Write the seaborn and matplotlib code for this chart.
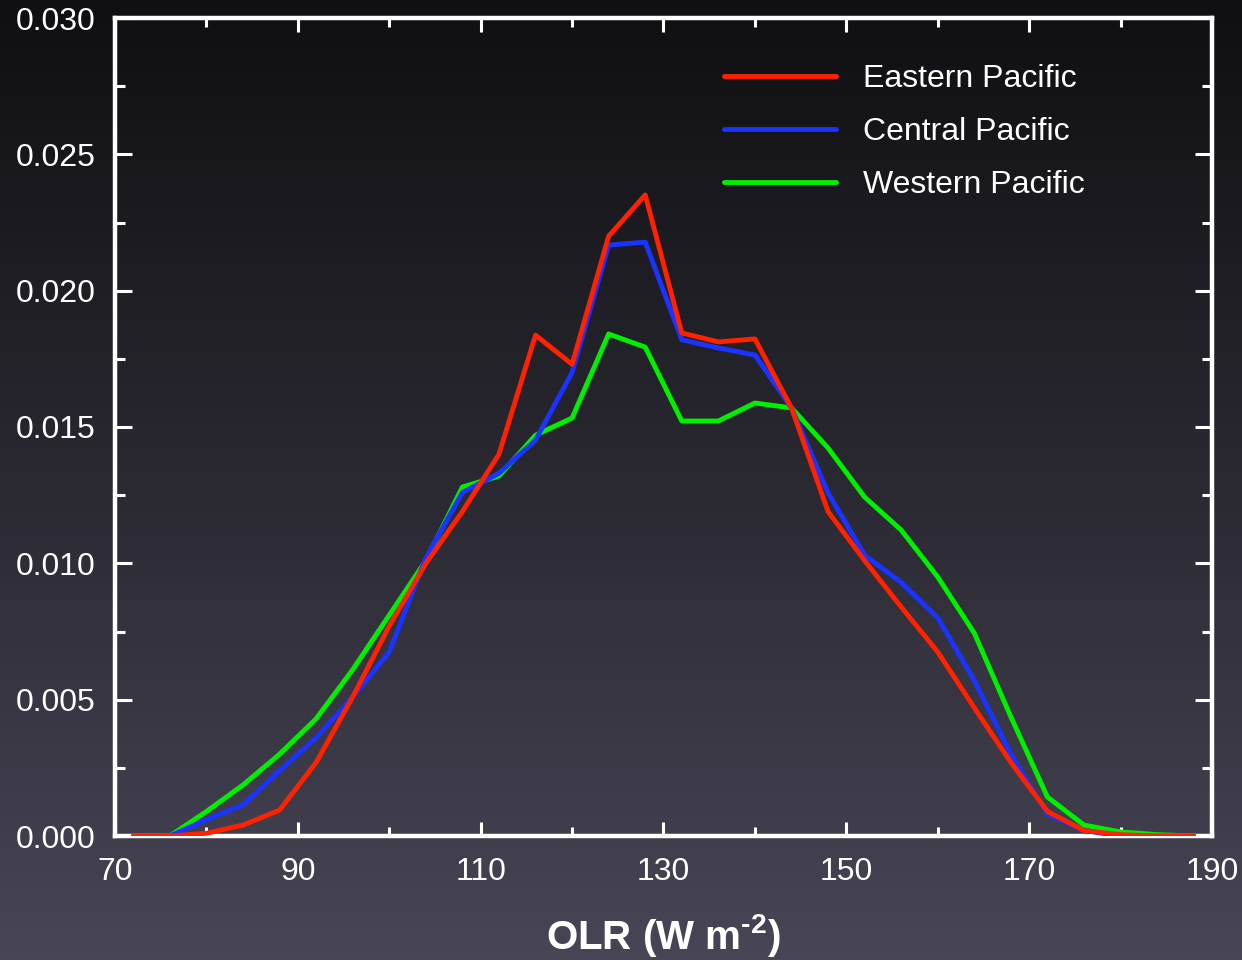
import numpy as np
import pandas as pd
import matplotlib
matplotlib.use("Agg")
import matplotlib.pyplot as plt
import seaborn as sns
from matplotlib.lines import Line2D

# ---- data ----
olr = [72, 76, 80, 84, 88, 92, 96, 100, 104, 108, 112, 116, 120, 124, 128, 132,
       136, 140, 144, 148, 152, 156, 160, 164, 168, 172, 176, 180, 184, 188]
eastern = [0.0, 0.0, 0.0001, 0.0004, 0.00095, 0.0027, 0.0051, 0.0077, 0.0100, 0.0119,
           0.0140, 0.01837, 0.0173, 0.0220, 0.02351, 0.01845, 0.01812, 0.01823,
           0.0157, 0.0119, 0.0101, 0.0084, 0.00675, 0.0047, 0.0027, 0.0009, 0.0002,
           0.00005, 0.0, 0.0]
central = [0.0, 0.0, 0.0006, 0.00114, 0.0024, 0.0036, 0.0051, 0.00675, 0.0102, 0.0126,
           0.0133, 0.01452, 0.0170, 0.02167, 0.02178, 0.0182, 0.0179, 0.01764,
           0.0157, 0.01258, 0.0103, 0.0093, 0.0080, 0.0057, 0.0030, 0.0008, 0.0002,
           0.0, 0.0, 0.0]
western = [0.0, 0.0, 0.0009, 0.00187, 0.0030, 0.0043, 0.0061, 0.0081, 0.0101, 0.0128,
           0.0132, 0.0147, 0.01533, 0.01841, 0.01793, 0.01522, 0.01522, 0.01588,
           0.0157, 0.01423, 0.01243, 0.01122, 0.0095, 0.00744, 0.00437, 0.00143,
           0.0004, 0.00015, 0.00005, 0.0]
regions = ["Eastern Pacific", "Central Pacific", "Western Pacific"]
colors = ["#ff2200", "#1a33ff", "#00f000"]
x_ticks = [70, 90, 110, 130, 150, 170, 190]
y_ticks = [0.000, 0.005, 0.010, 0.015, 0.020, 0.025, 0.030]

df = pd.DataFrame({
    "OLR": olr * 3,
    "freq": eastern + central + western,
    "region": [regions[0]] * len(olr) + [regions[1]] * len(olr) + [regions[2]] * len(olr),
})

sns.set_theme(style="ticks")
plt.rcParams["font.family"] = ["Liberation Sans", "DejaVu Sans"]
plt.rcParams["mathtext.fontset"] = "custom"
plt.rcParams["mathtext.rm"] = "Liberation Sans:bold"
plt.rcParams["mathtext.bf"] = "Liberation Sans:bold"
plt.rcParams["mathtext.it"] = "Liberation Sans:bold"

fig = plt.figure(figsize=(12.42, 9.6), dpi=100)

# background gradient
bg = fig.add_axes([0, 0, 1, 1], zorder=-10)
grad = np.linspace(0, 1, 256)[:, None]
top = np.array([16, 16, 19]) / 255.0
bot = np.array([72, 70, 86]) / 255.0
g = grad ** 1.1
img = top[None, None, :] * (1 - g[:, :, None]) + bot[None, None, :] * g[:, :, None]
bg.imshow(img, aspect="auto", extent=[0, 1, 0, 1])
bg.set_axis_off()

ax = fig.add_axes([115 / 1242, 1 - 836 / 960, (1212 - 115) / 1242, (836 - 18) / 960])
ax.set_facecolor("none")

sns.lineplot(data=df, x="OLR", y="freq", hue="region", hue_order=regions,
             palette=colors, linewidth=3.5, ax=ax, legend=False)
for ln, z in zip(ax.lines, [4, 3, 2]):
    ln.set_zorder(z)

ax.set_xlim(70, 190)
ax.set_ylim(0, 0.030)
ax.set_xticks(x_ticks)
ax.set_xticks(np.arange(80, 190, 20), minor=True)
ax.set_yticks(y_ticks)
ax.set_yticks(np.arange(0.0025, 0.030, 0.005), minor=True)
ax.set_xticklabels([str(v) for v in x_ticks])
ax.set_yticklabels([f"{v:.3f}" for v in y_ticks])

for s in ax.spines.values():
    s.set_visible(True)
    s.set_color("white")
    s.set_linewidth(3.2)
ax.tick_params(axis="both", which="both", direction="in", color="white",
               labelcolor="white", top=True, right=True, width=2.2)
ax.tick_params(axis="x", which="major", length=10, labelsize=23, pad=15)
ax.tick_params(axis="x", which="minor", length=6.5)
ax.tick_params(axis="y", which="major", length=12, labelsize=23, pad=14)
ax.tick_params(axis="y", which="minor", length=7.5)

ax.set_ylabel("")
ax.set_xlabel("OLR (W m$^{\\text{-}2}$)", color="white", fontsize=29,
              fontweight="bold", labelpad=18)

handles = [Line2D([], [], color=c, linewidth=3.5) for c in colors]
leg = ax.legend(handles, regions, loc="upper left",
                bbox_to_anchor=(724 / 1242, 1 - 64 / 960),
                bbox_transform=fig.transFigure, frameon=False, fontsize=23,
                handlelength=3.5, handletextpad=0.85, labelspacing=0.72,
                borderpad=0, borderaxespad=0)
for t in leg.get_texts():
    t.set_color("white")

fig.savefig("out.png", dpi=100)
